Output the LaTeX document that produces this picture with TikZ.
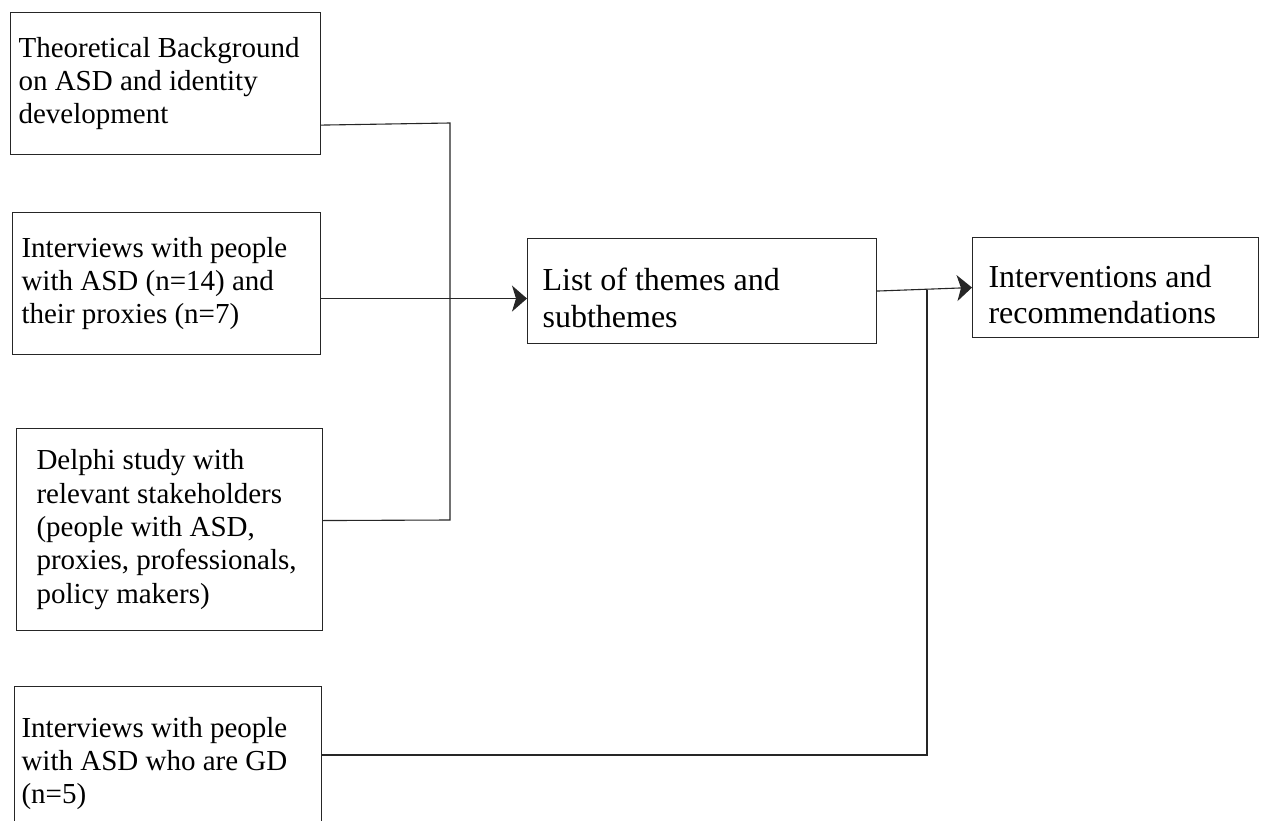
\documentclass[tikz,border=0pt]{standalone}
\usepackage{fontspec}
\setmainfont{Liberation Serif}
\usetikzlibrary{arrows.meta,calc}
\newcommand{\topgap}[1]{\par\vspace*{#1}\noindent}
\begin{document}
\begin{tikzpicture}[x=1pt,y=1pt,
  line/.style={draw=black!85,line width=1.1pt},
  srcbox/.style={line,rectangle,anchor=north west,align=flush left,inner ysep=0pt,
     font=\fontsize{29}{33.4}\selectfont},
  bigbox/.style={line,rectangle,anchor=north west,align=flush left,inner ysep=0pt,
     font=\fontsize{32}{36}\selectfont},
  arr/.style={line,-{Stealth[length=15pt,width=26pt,inset=4pt]}}]
\clip (0,0) rectangle (1261,-821);
\fill[white] (0,0) rectangle (1261,-821);
% source boxes
\node[srcbox,minimum width=310,minimum height=142,text width=294] (b1) at (10,-12)
  {Theoretical Background\\on ASD and identity\\development\par\vspace*{6pt}};
\node[srcbox,minimum width=308,minimum height=142,text width=290] (b2) at (12,-212)
  {Interviews with people\\with ASD (n=14) and\\their proxies (n=7)};
\node[srcbox,minimum width=306,minimum height=202,text width=266] (b3) at (16,-428)
  {Delphi study with\\relevant stakeholders\\(people with ASD,\\proxies, professionals,\\policy makers)};
\node[srcbox,minimum width=307,minimum height=154,text width=293] (b4) at (14,-686)
  {Interviews with people\\with ASD who are GD\\(n=5)};
% result boxes
\node[bigbox,minimum width=349,minimum height=105,text width=319] (list) at (527,-238)
  {\topgap{0pt}List of themes and\\[1pt]subthemes};
\node[bigbox,minimum width=286,minimum height=100,text width=254] (inter) at (972,-237)
  {\topgap{0pt}Interventions and\\recommendations};
% connectors
\coordinate (jt) at (450,-123);
\coordinate (jb) at (450,-520);
\draw[line] ($(b1.south east)+(0,30)$) -- (jt) -- (jb) -- ($(b3.east)+(0,9)$);
\draw[arr] ($(b2.east)+(0,-15)$) coordinate (m2) -- (m2 -| list.west);
\draw[arr] (list.east) -- (inter.west);
\coordinate (j2) at (927,-290);
\draw[line] ($(b4.north east)+(0,-69)$) -| (j2);
\end{tikzpicture}
\end{document}
